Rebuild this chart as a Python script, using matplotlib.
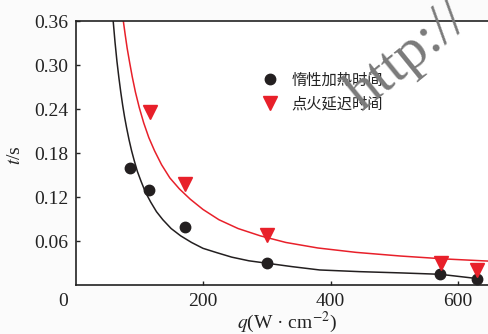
import matplotlib
matplotlib.use('Agg')
import matplotlib.pyplot as plt

plt.rcParams['font.family'] = ['Liberation Serif', 'Noto Sans CJK SC', 'DejaVu Sans']
plt.rcParams['mathtext.fontset'] = 'stix'

# measured points
q_heat = [86, 116, 172, 301, 572, 629]
t_heat = [0.159, 0.129, 0.079, 0.0296, 0.0146, 0.0078]
q_ign = [117, 172, 300, 574, 629]
t_ign = [0.236, 0.138, 0.068, 0.0296, 0.0205]

# fitted curves
q_heat_fit = [59, 62, 65, 68, 71, 74, 77, 80, 84, 88, 92, 97, 103, 110, 118, 127, 137, 150,
              165, 182, 200, 222, 245, 272, 301, 340, 383, 446, 510, 572, 630]
t_heat_fit = [0.361, 0.331, 0.305, 0.283, 0.263, 0.245, 0.229, 0.215, 0.198, 0.183, 0.170,
              0.155, 0.141, 0.126, 0.113, 0.100, 0.089, 0.077, 0.067, 0.058, 0.050, 0.044,
              0.038, 0.033, 0.0296, 0.025, 0.0205, 0.0182, 0.0165, 0.0146, 0.0088]
q_ign_fit = [75, 78, 81, 85, 89, 94, 100, 107, 115, 124, 135, 148, 163, 180, 200, 225, 255,
             290, 330, 380, 440, 510, 580, 650]
t_ign_fit = [0.360, 0.341, 0.323, 0.303, 0.284, 0.263, 0.242, 0.221, 0.201, 0.183, 0.164,
             0.146, 0.131, 0.117, 0.103, 0.089, 0.077, 0.067, 0.058, 0.0505, 0.0445, 0.0395,
             0.0355, 0.0325]

labels = ['惰性加热时间', '点火延迟时间']
black = '#231f20'
red = '#e8202a'

fig = plt.figure(figsize=(4.89, 3.34), dpi=100)
ax = fig.add_axes([75.5 / 489, 49 / 334, 446.3 / 489, 264 / 334])

ax.plot(q_heat_fit, t_heat_fit, color=black, lw=1.1)
ax.plot(q_ign_fit, t_ign_fit, color=red, lw=1.1)
h1, = ax.plot(q_heat, t_heat, 'o', color=black, ms=7.5, ls='none')
h2, = ax.plot(q_ign, t_ign, 'v', color=red, ms=10, ls='none')

ax.set_xlim(0, 700)
ax.set_ylim(0, 0.36)
ax.set_xticks([200, 400, 600])
ax.set_yticks([0.06, 0.12, 0.18, 0.24, 0.30, 0.36])
ax.set_yticklabels(['0.06', '0.12', '0.18', '0.24', '0.30', '0.36'])
ax.tick_params(direction='in', length=3, width=1, labelsize=14, colors='#222222')
ax.tick_params(axis='x', pad=6)
ax.tick_params(axis='y', pad=5)
for s in ax.spines.values():
    s.set_linewidth(1.2)
    s.set_color('#222222')

fig.text(63 / 489, 1 - 301 / 334, '0', fontsize=14, ha='center', va='center', color='#222222')
fig.text(287 / 489, 1 - 322 / 334, r'$q$(W · cm$^{-2}$)', fontsize=14, ha='center', va='center',
         color='#222222')
fig.text(15 / 489, 1 - 155 / 334, r'$t$/s', fontsize=14, ha='center', va='center', rotation=90,
         color='#222222')

leg = ax.legend([h1, h2], labels, loc='center left', bbox_to_anchor=(262 / 489, 1 - 92 / 334),
                bbox_transform=fig.transFigure, frameon=False, borderpad=0, borderaxespad=0,
                handlelength=1.0, handletextpad=0.95, labelspacing=0.45,
                prop={'family': ['Noto Sans CJK SC'], 'size': 11})
for t in leg.get_texts():
    t.set_color('#222222')

# watermark
fig.text(362 / 489, 1 - 112 / 334, 'http://', fontsize=42, color='#7a7a7a', rotation=39,
         ha='left', va='baseline', rotation_mode='anchor', family='Liberation Serif')

fig.savefig('out.png', dpi=100, facecolor='#fbfbfb')
